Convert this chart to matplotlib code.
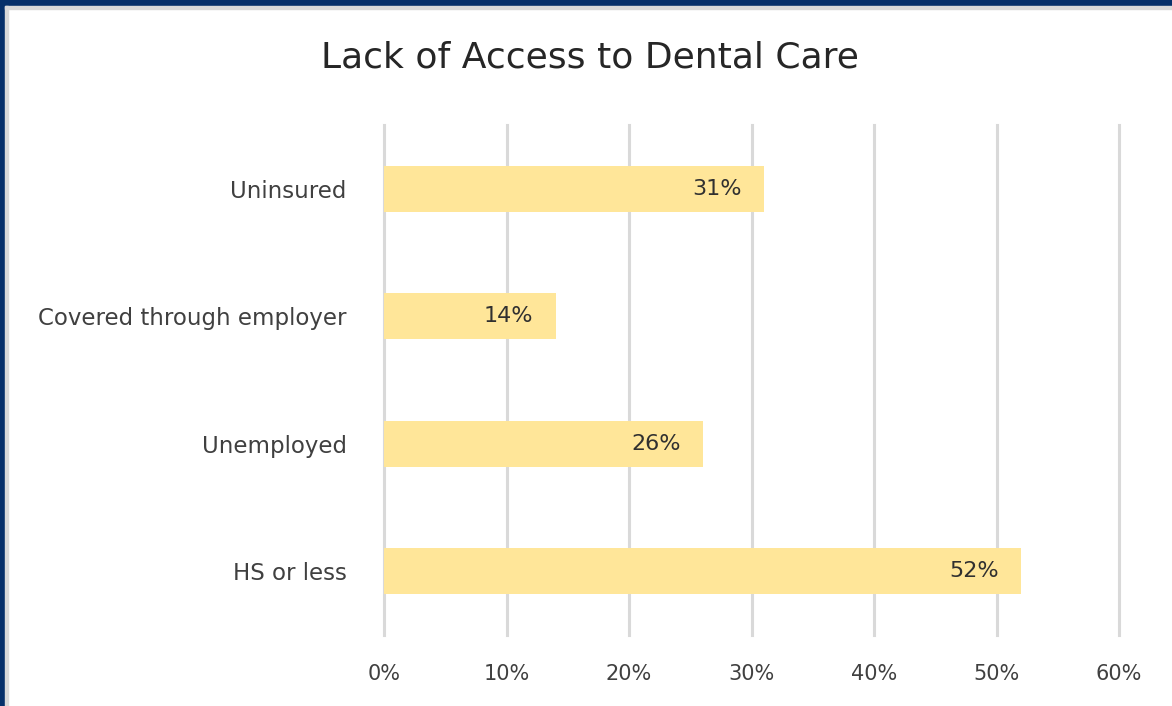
import matplotlib.pyplot as plt
import matplotlib.patches as patches
from matplotlib.ticker import PercentFormatter

categories = ["HS or less", "Unemployed", "Covered through employer", "Uninsured"]
values = [52, 26, 14, 31]
xticks = [0, 10, 20, 30, 40, 50, 60]

fig = plt.figure(figsize=(11.72, 7.06), dpi=100)
fig.patch.set_facecolor("white")

# frame: navy outer edge, thin gray inner edge
fig.add_artist(patches.Rectangle((0, 1 - 6 / 706), 1, 6 / 706, transform=fig.transFigure,
                                 color="#06306A", zorder=0))
fig.add_artist(patches.Rectangle((0, 0), 5 / 1172, 1, transform=fig.transFigure,
                                 color="#06306A", zorder=0))
fig.add_artist(patches.Rectangle((5 / 1172, 1 - 9 / 706), 1, 3 / 706, transform=fig.transFigure,
                                 color="#D9D9D9", zorder=0))
fig.add_artist(patches.Rectangle((5 / 1172, 0), 3 / 1172, 1 - 6 / 706, transform=fig.transFigure,
                                 color="#D9D9D9", zorder=0))

ax = fig.add_axes([384 / 1172, 71 / 706, (1119 - 384) / 1172, (635 - 125) / 706])
ax.barh(range(len(categories)), values, height=0.36, color="#FFE699", zorder=2)

for i, v in enumerate(values):
    ax.text(v - 1.8, i, f"{v}%", ha="right", va="center", fontsize=16, color="#303030", zorder=3)

ax.set_xlim(0, 60)
ax.set_ylim(-0.5, 3.5)
ax.set_xticks(xticks)
ax.xaxis.set_major_formatter(PercentFormatter(decimals=0))
ax.set_yticks(range(len(categories)))
ax.set_yticklabels(categories)
ax.tick_params(axis="both", length=0, labelcolor="#404040")
ax.tick_params(axis="y", pad=27, labelsize=16.5)
ax.tick_params(axis="x", pad=21, labelsize=15)
ax.grid(axis="x", color="#D9D9D9", linewidth=2.2, zorder=1)
for line in ax.get_xgridlines():
    line.set_clip_on(False)
ax.set_axisbelow(True)
for s in ax.spines.values():
    s.set_visible(False)

fig.text(590 / 1172, 1 - 57 / 706, "Lack of Access to Dental Care", ha="center", va="center",
         fontsize=26, color="#262626")

fig.savefig("out.png", dpi=100)
